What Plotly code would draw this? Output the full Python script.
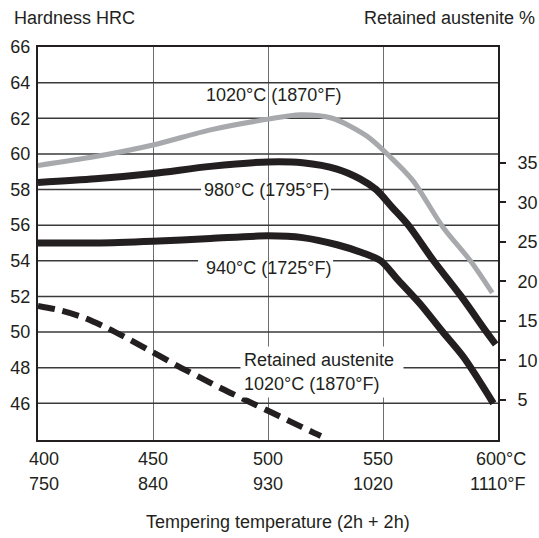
import plotly.graph_objects as go

# ---- axis ticks / labels ----
temp_c_ticks = [400, 450, 500, 550, 600]
temp_c_labels = ["400", "450", "500", "550", "600°C"]
temp_f_labels = ["750", "840", "930", "1020", "1110°F"]
hrc_ticks = [46, 48, 50, 52, 54, 56, 58, 60, 62, 64, 66]
ra_ticks = [5, 10, 15, 20, 25, 30, 35]

# ---- series: hardness after hardening at 1020 °C ----
t_1020 = [400, 425, 450, 475, 500, 514, 528, 543, 553, 563, 576, 588, 597.5]
hrc_1020 = [59.35, 59.85, 60.5, 61.35, 61.95, 62.2, 62.0, 61.0, 59.85, 58.5, 55.9, 54.0, 52.2]

# ---- hardness after hardening at 980 °C ----
t_980 = [400, 425, 450, 475, 500, 515, 530, 540, 547, 554, 561, 572, 584, 595, 599]
hrc_980 = [58.4, 58.6, 58.9, 59.3, 59.55, 59.5, 59.15, 58.6, 58.0, 57.0, 56.0, 54.0, 52.0, 50.0, 49.3]

# ---- hardness after hardening at 940 °C ----
t_940 = [400, 425, 450, 475, 500, 515, 530, 541, 549, 556, 566, 576, 585, 598]
hrc_940 = [55.0, 55.0, 55.1, 55.25, 55.4, 55.3, 54.9, 54.45, 54.0, 53.0, 51.6, 50.0, 48.6, 46.0]

# ---- retained austenite (%), 1020 °C ----
t_ra = [400, 410, 420, 430, 440, 450, 460, 470, 480, 490, 500, 510, 520, 523]
ra_pct = [16.9, 16.3, 15.4, 14.1, 12.6, 11.0, 9.4, 7.9, 6.4, 5.0, 3.6, 2.2, 0.8, 0.4]

# ---- curve labels ----
lbl_1020 = "1020°C (1870°F)"
lbl_980 = "980°C (1795°F)"
lbl_940 = "940°C (1725°F)"
lbl_ra1 = "Retained austenite"
lbl_ra2 = "1020°C (1870°F)"

FONT = "Liberation Sans, Arial, sans-serif"
TXT = "#231f20"
FS = 18

fig = go.Figure()

fig.add_trace(go.Scatter(x=t_1020, y=hrc_1020, mode="lines",
                         line=dict(color="#a7a9ac", width=5, shape="spline", smoothing=0.8),
                         hoverinfo="skip", showlegend=False))
fig.add_trace(go.Scatter(x=t_980, y=hrc_980, mode="lines",
                         line=dict(color=TXT, width=7, shape="spline", smoothing=0.8),
                         hoverinfo="skip", showlegend=False))
fig.add_trace(go.Scatter(x=t_940, y=hrc_940, mode="lines",
                         line=dict(color=TXT, width=7, shape="spline", smoothing=0.8),
                         hoverinfo="skip", showlegend=False))
fig.add_trace(go.Scatter(x=t_ra, y=ra_pct, mode="lines", yaxis="y2",
                         line=dict(color=TXT, width=6, dash="17px,8px", shape="spline", smoothing=0.8),
                         hoverinfo="skip", showlegend=False))

# horizontal gridlines (split where a curve label sits on them)
gaps = {58: (470.9, 527.4), 54: (469.6, 528.3)}
shapes = []
for v in hrc_ticks[:-1]:
    segs = [(temp_c_ticks[0], temp_c_ticks[-1])]
    if v in gaps:
        g0, g1 = gaps[v]
        segs = [(temp_c_ticks[0], g0), (g1, temp_c_ticks[-1])]
    for a, b in segs:
        shapes.append(dict(type="line", xref="x", yref="y", x0=a, x1=b, y0=v, y1=v,
                           line=dict(color="#3a3a3a", width=1.5), layer="between"))

ann = []
# curve labels
ann.append(dict(x=502.2, y=63.31, xref="x", yref="y", text=lbl_1020, showarrow=False,
                xanchor="center", yanchor="middle", font=dict(family=FONT, size=FS, color=TXT)))
ann.append(dict(x=499.4, y=57.96, xref="x", yref="y", text=lbl_980, showarrow=False,
                xanchor="center", yanchor="middle", font=dict(family=FONT, size=FS, color=TXT)))
ann.append(dict(x=500.4, y=53.58, xref="x", yref="y", text=lbl_940, showarrow=False,
                xanchor="center", yanchor="middle", font=dict(family=FONT, size=FS, color=TXT)))
ann.append(dict(x=488.0, y=48.43, xref="x", yref="y", text=lbl_ra1, showarrow=False,
                xanchor="left", yanchor="middle", align="left", width=156, bgcolor="white",
                borderpad=3, font=dict(family=FONT, size=FS, color=TXT)))
ann.append(dict(x=488.0, y=47.06, xref="x", yref="y", text=lbl_ra2, showarrow=False,
                xanchor="left", yanchor="middle", align="left", width=156, bgcolor="white",
                borderpad=3, font=dict(family=FONT, size=FS, color=TXT)))

# x tick labels (two rows, °C and °F)
x_label_shift = [23, 17, 17, 12, 30]
for t, c, f, s in zip(temp_c_ticks, temp_c_labels, temp_f_labels, x_label_shift):
    ann.append(dict(x=t, y=-0.0496, xref="x", yref="paper", text=c, showarrow=False,
                    xanchor="right", yanchor="middle", xshift=s,
                    font=dict(family=FONT, size=FS, color=TXT)))
    ann.append(dict(x=t, y=-0.1107, xref="x", yref="paper", text=f, showarrow=False,
                    xanchor="right", yanchor="middle", xshift=s,
                    font=dict(family=FONT, size=FS, color=TXT)))

# titles
ann.append(dict(x=-0.0565, y=1.0738, xref="paper", yref="paper", text="Hardness HRC",
                showarrow=False, xanchor="left", yanchor="middle",
                font=dict(family=FONT, size=FS, color=TXT)))
ann.append(dict(x=1.0848, y=1.0738, xref="paper", yref="paper", text="Retained austenite %",
                showarrow=False, xanchor="right", yanchor="middle",
                font=dict(family=FONT, size=FS, color=TXT)))
ann.append(dict(x=0.5217, y=-0.2099, xref="paper", yref="paper",
                text="Tempering temperature (2h + 2h)",
                showarrow=False, xanchor="center", yanchor="middle",
                font=dict(family=FONT, size=FS, color=TXT)))

fig.update_layout(
    template="none",
    width=539, height=538,
    margin=dict(l=38, r=41, t=47, b=98, pad=0),
    paper_bgcolor="white", plot_bgcolor="white",
    font=dict(family=FONT, size=FS, color=TXT),
    showlegend=False,
    shapes=shapes,
    annotations=ann,
    xaxis=dict(range=[400, 600], tickvals=temp_c_ticks, showticklabels=False, ticks="",
               showgrid=True, gridcolor="#6d6e71", gridwidth=1, zeroline=False, automargin=False,
               showline=True, linecolor=TXT, linewidth=2, mirror=True, fixedrange=True),
    yaxis=dict(range=[43.94, 66], tickvals=hrc_ticks, ticks="", showgrid=False, automargin=False,
               zeroline=False, showline=True, linecolor=TXT, linewidth=2, mirror=True,
               ticklabelstandoff=2, tickfont=dict(family=FONT, size=FS, color=TXT),
               fixedrange=True),
    yaxis2=dict(range=[-0.1, 49.7], overlaying="y", side="right", tickvals=ra_ticks,
                ticks="outside", ticklen=7, tickwidth=1.5, tickcolor=TXT, showgrid=False,
                zeroline=False, showline=False, ticklabelstandoff=8, automargin=False,
                tickfont=dict(family=FONT, size=FS, color=TXT), fixedrange=True),
)

fig.write_html("out.html", config={"displayModeBar": False},
               post_script="document.body.style.margin='0';document.body.style.padding='0';")
